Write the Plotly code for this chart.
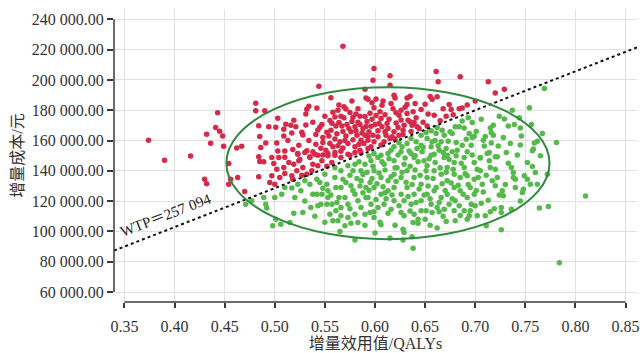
import plotly.graph_objects as go

# ---------------- data (x = incremental QALYs, y = incremental cost in thousand yuan)
red_x = [0.568,0.544,0.556,0.481,0.481,0.490,0.443,0.534,0.532,0.531,0.542,0.503,0.441,0.445,0.432,0.448,0.436,0.374,0.416,0.390,0.449,0.462,0.467,0.484,0.494,0.501,0.485,0.491,0.486,0.484,0.511,0.509,0.509,0.516,0.519,0.521,0.502,0.503,0.510,0.518,0.524,0.523,0.528,0.531,0.532,
0.545,0.547,0.543,0.555,0.558,0.564,0.563,0.569,0.571,0.569,0.578,0.585,0.590,0.557,0.561,0.556,0.554,0.564,0.567,0.572,0.580,0.585,0.591,0.591,0.590,
0.548,0.546,0.551,0.558,0.565,0.571,0.576,0.582,0.586,0.573,0.580,0.589,0.593,0.566,0.560,0.553,0.543,0.538,0.535,0.585,0.575,
0.599,0.598,0.615,0.615,0.661,0.663,0.685,0.713,0.729,0.720,0.700,0.593,0.601,0.599,0.607,0.608,0.619,0.620,0.632,0.635,0.632,0.655,0.657,0.662,0.674,0.676,0.684,0.687,
0.618,0.621,0.626,0.624,0.632,0.633,0.606,0.604,0.607,0.612,0.610,0.619,0.617,0.624,0.635,0.637,0.642,0.639,0.644,0.659,0.671,0.652,0.665,0.628,0.596,0.598,0.593,0.599,0.593,0.596,0.603,0.609,0.606,0.615,0.594,
0.430,0.432,0.454,0.454,0.456,0.463,0.470,0.485,0.489,0.484,0.499,0.502,0.497,0.495,0.500,0.505,0.509,0.510,0.514,0.519,0.517,0.522,0.524,0.528,0.530,0.535,0.538,0.532,0.537,0.543,0.547,0.553,0.560,0.557,0.552,0.566,0.573,0.580,0.586,0.540,0.523,0.510,0.504,0.527,0.518,0.497,
0.548,0.552,0.560,0.562,0.568,0.570,0.574,0.577,0.581,0.583,0.587,0.588,0.592,0.595,0.597,0.601,0.603,0.605,0.610,0.613,0.614,0.616,0.621,0.623,0.626,0.629,0.630,0.638,0.641,0.646,0.648,0.650,0.653,0.583,0.577,0.566,0.560,0.550,0.538,0.541,0.527,0.534,0.541,0.563,0.578,0.590,0.575,0.581,0.600,0.611,0.620,0.628,0.636,0.513,0.517,0.525,0.548,0.555,0.568,0.584,0.597,0.640,0.668,0.678,0.692]
red_y = [222.2,195.8,188.3,184.6,179.7,179.7,178.4,182.6,180.6,177.5,181.5,174.7,168.5,166.1,164.1,163.0,158.2,160.2,149.8,147.0,156.2,155.1,156.2,169.8,169.0,168.7,162.6,158.4,155.3,149.2,170.7,167.4,163.0,170.1,173.4,169.0,158.4,153.1,153.1,154.0,156.9,151.4,163.7,170.3,153.3,
168.7,170.5,167.0,173.2,178.6,183.5,180.0,182.2,180.8,175.1,175.3,176.0,175.8,171.4,169.6,166.8,163.0,171.8,169.6,170.5,169.0,170.5,169.2,188.1,193.8,
158.6,154.9,153.6,155.8,159.1,163.0,165.7,163.5,160.2,158.0,155.8,158.0,162.4,152.9,150.3,151.4,150.3,152.5,149.2,153.5,150.3,
207.5,199.8,202.8,196.5,205.5,198.7,202.0,198.7,193.8,191.4,186.1,187.2,187.4,181.7,183.3,186.1,189.9,188.1,188.1,189.2,183.7,189.0,187.2,188.8,183.7,180.4,181.0,181.5,
181.0,178.4,180.0,176.7,177.8,173.4,174.5,171.2,169.0,171.2,165.7,165.7,162.4,163.5,172.3,170.1,169.0,171.8,167.9,176.7,176.0,169.6,173.1,166.8,169.4,163.5,160.2,159.1,154.7,155.8,162.4,159.1,157.0,161.3,165.7,
134.5,131.4,144.8,131.2,134.5,135.6,126.4,146.2,146.0,136.0,144.8,141.1,136.7,132.3,131.2,135.6,142.2,138.2,145.5,144.4,136.7,140.0,146.6,142.2,152.1,148.8,144.4,137.8,140.0,143.3,146.6,149.9,152.1,145.5,143.0,148.8,151.0,152.1,151.8,151.0,151.0,149.0,148.8,137.0,134.5,148.8,
162.0,165.5,161.0,164.5,166.0,160.0,168.0,172.5,166.5,172.0,165.0,168.0,172.5,178.0,174.0,176.5,166.5,179.0,177.0,168.0,174.0,184.5,171.5,168.5,173.5,170.0,182.0,179.0,175.0,180.5,172.0,184.0,177.5,181.0,186.0,176.0,175.5,176.0,172.0,164.0,165.5,160.0,157.5,156.5,160.5,163.5,178.5,177.5,170.5,163.5,161.0,164.0,166.0,160.0,165.0,147.5,150.5,158.0,155.0,157.5,185.0,184.5,181.0,177.0,183.5]

green_x = [0.769,0.737,0.754,0.724,0.729,0.733,0.739,0.745,0.756,0.746,0.767,0.762,0.759,0.781,0.758,0.715,0.716,0.718,0.710,0.708,0.716,0.723,0.712,0.697,0.699,0.687,0.684,0.680,0.689,0.694,0.691,0.687,0.681,0.696,0.682,0.673,0.669,0.675,0.667,0.662,0.656,0.661,0.651,0.646,0.652,0.657,0.666,0.671,0.664,0.656,0.646,0.647,0.641,0.636,0.632,0.627,0.624,0.619,0.616,0.613,0.606,0.599,0.594,0.626,0.636,0.642,0.656,0.672,0.677,0.692,0.705,0.720,0.709,0.677,
0.471,0.477,0.491,0.492,0.489,0.500,0.507,0.510,0.517,0.520,0.519,0.501,0.498,0.506,0.515,0.523,0.526,0.530,0.535,0.542,0.545,0.536,0.543,0.547,0.542,0.546,0.552,0.553,0.557,0.555,0.558,0.563,0.561,0.566,0.573,0.570,0.566,0.571,0.576,0.580,0.583,0.586,0.580,0.573,0.570,0.576,0.583,0.580,0.560,0.550,0.560,0.566,0.573,0.580,0.586,0.590,0.586,0.591,0.591,0.590,0.561,0.553,0.564,0.552,0.566,
0.810,0.784,0.773,0.764,0.726,0.726,0.736,0.726,0.757,0.760,0.762,0.772,0.755,0.752,0.749,0.740,0.738,0.736,0.738,0.740,0.748,0.747,0.757,0.727,0.728,0.720,0.722,0.720,0.715,0.714,0.722,0.714,0.705,0.707,0.699,0.702,0.710,0.711,0.702,0.694,0.692,0.695,0.689,0.680,0.671,0.662,
0.638,0.637,0.628,0.615,0.629,0.628,0.643,0.643,0.638,0.606,0.599,0.605,0.613,0.616,0.599,0.595,0.626,0.629,0.639,0.646,0.651,0.662,0.657,0.669,0.679,
0.609,0.619,0.629,0.639,0.649,0.659,0.669,0.679,0.689,0.692,0.685,0.679,0.672,0.666,0.659,0.652,0.646,0.639,0.632,0.626,0.619,0.613,0.606,0.599,0.596,0.603,0.599,0.606,0.613,0.619,0.626,0.632,0.639,0.646,0.652,0.659,0.666,0.672,0.679,0.685,0.692,0.680,0.674,0.664,0.656,0.636,0.629,0.619,0.609,0.596,0.603,0.593,0.595,0.699,0.695,0.672,0.652,0.689,0.699,0.705,
0.575,0.578,0.582,0.584,0.588,0.588,0.592,0.594,0.597,0.598,0.601,0.602,0.604,0.607,0.608,0.610,0.611,0.614,0.616,0.617,0.621,0.622,0.623,0.624,0.627,0.630,0.631,0.633,0.634,0.635,0.637,0.640,0.641,0.643,0.644,0.645,0.648,0.649,0.651,0.653,0.654,0.655,0.658,0.660,0.661,0.663,0.664,0.665,0.667,0.668,0.670,0.671,0.674,0.676,0.677,0.678,0.681,0.683,0.684,0.686,0.688,0.690,0.693,0.696,0.697,0.701,0.703,0.706,0.708,0.711,0.713,0.717,0.719,0.724,0.730,0.733,0.742,0.735,0.728,0.701,0.706,0.693,0.660,0.640,0.620,0.610,0.585,0.578,0.575,0.568,0.562,0.556,0.548,0.538,0.530,0.528,0.540,0.550,0.565,0.590,0.600,0.620,0.635,0.650,0.655,0.668,0.685,0.700,0.715,0.745,0.752,0.765,0.745,0.731,0.718,0.744,0.697]
green_y = [194.3,180.0,181.7,176.0,174.2,169.6,170.5,168.3,170.5,163.0,164.6,159.5,158.4,158.6,154.4,168.3,165.2,163.5,162.6,160.2,158.4,156.4,151.4,171.8,162.8,172.9,169.0,169.0,168.3,164.6,160.8,156.9,158.6,156.9,153.6,159.5,163.5,165.7,166.8,168.5,166.5,164.6,165.2,163.5,161.3,159.1,159.1,154.7,153.6,155.8,156.9,152.5,159.1,161.3,158.0,155.8,158.5,155.8,153.6,151.4,150.3,151.4,149.8,152.5,151.4,154.7,150.3,150.3,152.5,152.5,148.5,149.2,156.4,164.6,
118.0,120.2,118.0,115.4,122.4,122.4,124.6,129.0,128.6,122.4,111.9,108.1,103.7,104.8,105.9,131.2,126.8,133.4,131.2,134.5,132.3,115.8,116.9,124.6,124.6,118.0,131.2,126.8,118.0,111.4,107.0,107.0,113.6,115.8,118.0,122.4,129.0,132.3,130.1,124.6,120.2,115.8,111.4,109.2,103.7,105.3,105.9,94.3,135.6,137.8,142.2,140.0,143.3,144.4,140.0,144.4,133.4,129.0,122.4,111.4,129.0,122.4,122.4,118.0,110.3,
123.3,79.3,116.5,115.4,101.1,112.5,114.7,115.8,142.9,138.9,131.2,137.8,131.2,134.5,136.7,134.5,135.6,142.2,138.9,129.0,127.9,125.7,153.2,126.8,123.5,141.1,135.6,130.1,142.2,146.6,149.2,152.1,148.8,131.2,124.6,141.1,110.3,103.7,110.3,110.3,108.1,113.6,113.6,107.0,106.6,102.2,
88.8,96.5,94.3,95.6,99.3,101.5,105.3,108.1,105.9,104.4,109.2,106.0,111.9,114.7,113.0,112.5,112.5,110.3,111.4,113.6,113.6,115.8,112.5,114.7,113.6,
144.4,146.6,144.4,148.8,146.6,151.0,148.8,145.5,142.2,136.7,135.6,137.8,133.4,137.8,140.0,135.6,131.2,135.6,140.0,135.6,137.8,133.4,135.6,140.0,146.6,148.8,129.0,124.6,126.8,129.0,124.6,129.0,124.6,120.2,124.6,126.8,122.4,124.6,129.0,126.8,122.4,120.2,118.0,119.1,118.0,118.0,120.2,120.2,118.0,118.0,115.8,122.4,132.3,134.5,129.0,142.2,143.3,148.8,145.5,140.0,
137.0,127.0,135.0,146.0,137.5,125.5,139.0,127.0,135.0,143.0,121.0,131.5,138.5,146.0,129.5,140.5,121.5,148.0,136.0,124.0,133.0,142.0,150.5,117.0,139.0,148.5,132.5,123.0,153.0,143.0,131.0,140.5,119.0,146.0,128.0,137.0,155.5,124.0,140.0,130.0,148.0,121.5,135.0,145.5,129.0,156.5,113.0,142.0,131.5,152.0,127.0,139.0,147.5,132.0,121.5,141.0,150.0,130.5,117.0,145.0,124.5,138.0,131.0,118.0,150.5,127.0,135.5,118.5,126.0,137.0,120.5,133.5,115.0,124.0,131.0,145.0,150.5,158.0,162.0,166.0,174.0,175.0,160.0,150.0,142.0,125.5,130.0,140.0,115.0,134.5,119.0,124.0,128.5,124.5,120.0,112.5,110.0,106.0,100.0,104.0,99.0,104.0,113.5,108.0,104.0,110.0,110.5,117.0,113.0,120.0,145.5,150.0,157.0,152.0,170.0,175.0,162.0]

wtp = 257094
wtp_label = "WTP＝257 094"

# 95% confidence ellipse (bounding box, x in QALYs, y in thousand yuan)
ellipse_x = [0.4517, 0.7741]
ellipse_y = [94.9, 195.2]

x_ticks = [0.35, 0.40, 0.45, 0.50, 0.55, 0.60, 0.65, 0.70, 0.75, 0.80, 0.85]
x_tick_text = ["0.35", "0.40", "0.45", "0.50", "0.55", "0.60", "0.65", "0.70", "0.75", "0.80", "0.85"]
y_ticks = [60000, 80000, 100000, 120000, 140000, 160000, 180000, 200000, 220000, 240000]
y_tick_text = ["60 000.00", "80 000.00", "100 000.00", "120 000.00", "140 000.00",
               "160 000.00", "180 000.00", "200 000.00", "220 000.00", "240 000.00"]

x_title = "增量效用值/QALYs"
y_title = "增量成本/元"

x_range = [0.3396, 0.8614]
y_range = [53400, 246800]

RED = "#d52a4a"
GREEN = "#55b94b"
ELLIPSE = "#2f8a3e"
AXIS = "#3a3a3a"
GRID = "#e0e0e0"
FONT = "Liberation Serif, Noto Sans CJK SC, serif"

red_cost = [v * 1000 for v in red_y]
green_cost = [v * 1000 for v in green_y]

fig = go.Figure()
fig.add_trace(go.Scatter(x=red_x, y=red_cost, mode="markers",
                         marker=dict(color=RED, size=5.5, line=dict(width=0)),
                         showlegend=False, hoverinfo="skip"))
fig.add_trace(go.Scatter(x=green_x, y=green_cost, mode="markers",
                         marker=dict(color=GREEN, size=5.5, line=dict(width=0)),
                         showlegend=False, hoverinfo="skip"))
fig.add_trace(go.Scatter(x=x_range, y=[wtp * v for v in x_range], mode="lines",
                         line=dict(color="#111111", width=2, dash="3px,3px"),
                         showlegend=False, hoverinfo="skip"))

fig.add_shape(type="circle", xref="x", yref="y",
              x0=ellipse_x[0], x1=ellipse_x[1],
              y0=ellipse_y[0] * 1000, y1=ellipse_y[1] * 1000,
              line=dict(color=ELLIPSE, width=2))
# axis spines limited to the tick extent
fig.add_shape(type="line", xref="paper", yref="y", x0=0, x1=0,
              y0=y_ticks[0], y1=y_ticks[-1], line=dict(color=AXIS, width=1.5))
fig.add_shape(type="line", xref="x", yref="paper", x0=x_ticks[0], x1=x_ticks[-1],
              y0=0, y1=0, line=dict(color=AXIS, width=1.5))

fig.add_annotation(x=0.3915, y=110500, text=wtp_label, showarrow=False,
                   textangle=-21, font=dict(family=FONT, size=15, color="#222222"))

fig.update_layout(
    width=640, height=353,
    margin=dict(l=114, r=0, t=9, b=51),
    paper_bgcolor="white", plot_bgcolor="white",
    font=dict(family=FONT, size=16, color="#333333"),
    xaxis=dict(range=x_range, tickvals=x_ticks, ticktext=x_tick_text,
               showgrid=True, gridcolor=GRID, gridwidth=1, zeroline=False,
               showline=False, ticks="outside", ticklen=5, tickwidth=1.5,
               tickcolor=AXIS, ticklabelstandoff=5, ticklabeloverflow="allow",
               title=dict(text=x_title, standoff=2, font=dict(size=16))),
    yaxis=dict(range=y_range, tickvals=y_ticks, ticktext=y_tick_text,
               showgrid=True, gridcolor=GRID, gridwidth=1, zeroline=False,
               showline=False, ticks="outside", ticklen=6, tickwidth=1.5,
               tickcolor=AXIS,
               title=dict(text=y_title, standoff=4, font=dict(size=16))),
)

fig.write_html("out.html", config={"displayModeBar": False},
               post_script="document.body.style.margin='0';document.body.style.overflow='hidden';")
